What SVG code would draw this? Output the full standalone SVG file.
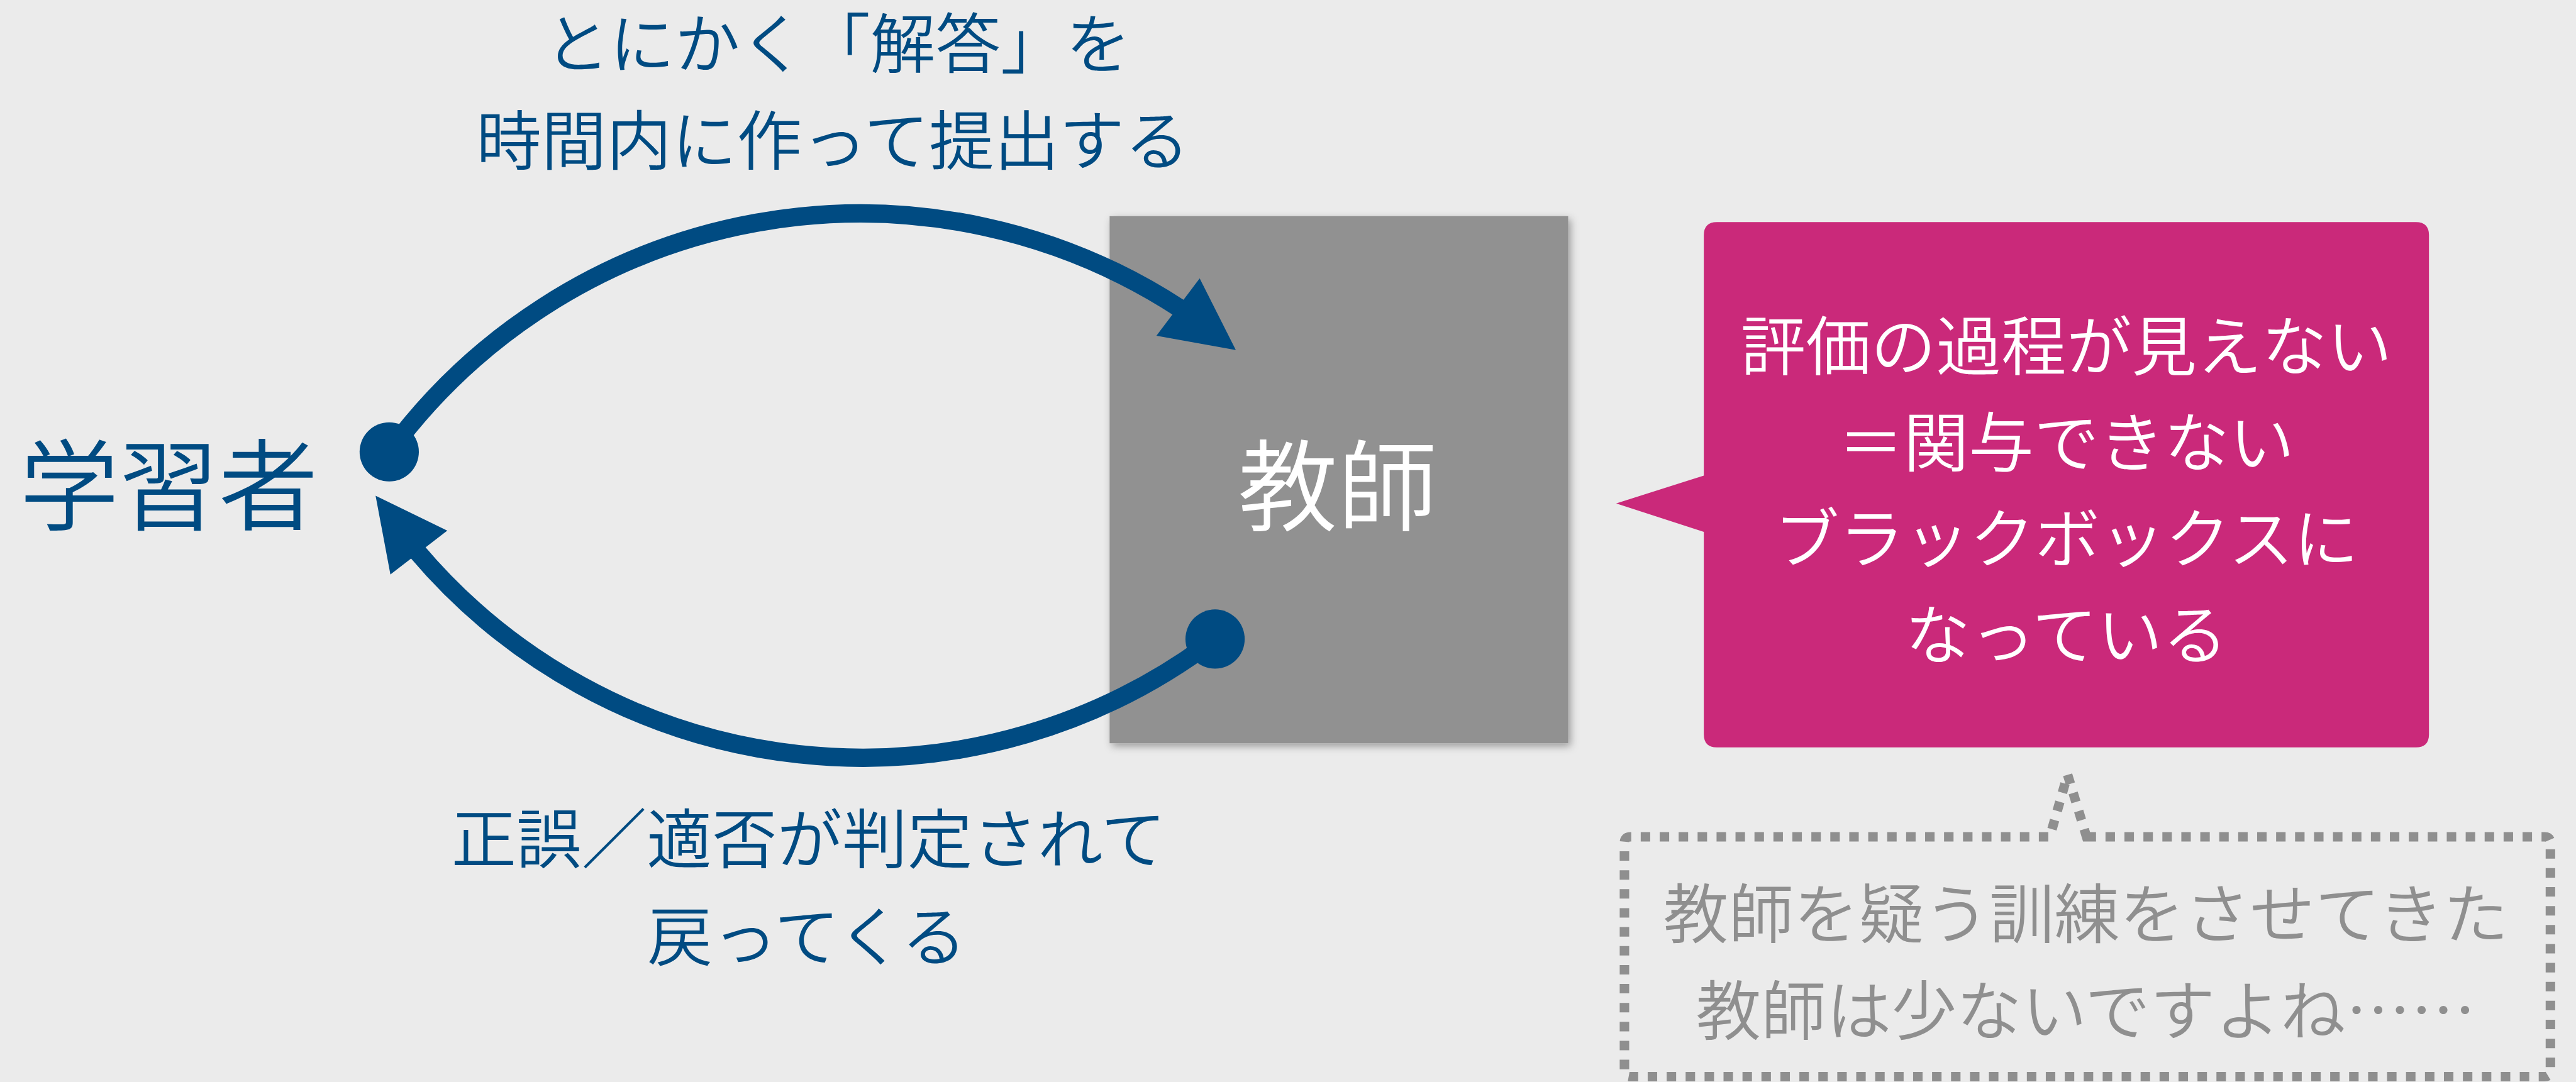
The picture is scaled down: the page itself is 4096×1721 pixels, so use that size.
<svg xmlns="http://www.w3.org/2000/svg" width="4096" height="1721" viewBox="0 0 4096 1721">
  <defs>
    <style>
      text { font-family: "Noto Sans CJK JP", "Noto Sans CJK SC", sans-serif; font-weight: 350; text-anchor: middle; }
      .blue { fill: #004B82; }
      .lbl { font-size: 110px; }
      .big { font-size: 168px; }
      .pink { fill: #FFFFFF; font-size: 110px; }
      .note { fill: #8F8F8F; font-size: 110px; }
      .arc { fill: none; stroke: #004B82; stroke-width: 31; stroke-linecap: butt; }
      .head, .dot { fill: #004B82; }
    </style>
    <filter id="shadow" x="-10%" y="-10%" width="120%" height="120%">
      <feDropShadow dx="4" dy="5" stdDeviation="7" flood-color="#000000" flood-opacity="0.35"/>
    </filter>
  </defs>
  <rect x="0" y="0" width="4096" height="1721" fill="#EBEBEB"/>
  <g transform="scale(0.942)">
    <g id="teacher">
      <rect x="1873" y="365" width="774" height="890" fill="#919191" filter="url(#shadow)"/>
      <text class="big" x="2258" y="883" fill="#FFFFFF">教師</text>
    </g>
    <g id="learner">
      <text class="big blue" x="285" y="882">学習者</text>
    </g>
    <g id="connectors">
      <path class="arc" d="M 657 763 A 987 987 0 0 1 1992 521"/>
      <polygon class="head" points="2025,470 2086,591 1952,567"/>
      <circle class="dot" cx="657" cy="763" r="50"/>
      <path class="arc" d="M 2051 1079 A 985 985 0 0 1 703 930"/>
      <polygon class="head" points="634,837 755,896 659,970"/>
      <circle class="dot" cx="2051" cy="1079" r="50"/>
    </g>
    <g id="label-submit">
      <text class="lbl blue" x="1414" y="115">とにかく「解答」を</text>
      <text class="lbl blue" x="1406" y="278">時間内に作って提出する</text>
    </g>
    <g id="label-return">
      <text class="lbl blue" x="1365" y="1458">正誤／適否が判定されて</text>
      <text class="lbl blue" x="1362" y="1622">戻ってくる</text>
    </g>
    <g id="callout">
      <path d="M 2898 375 H 4078 Q 4100 375 4100 397 V 1240 Q 4100 1262 4078 1262 H 2898 Q 2876 1262 2876 1240 V 898 L 2728 850 L 2876 803 V 397 Q 2876 375 2898 375 Z" fill="#CA297A"/>
      <text class="pink" x="3488" y="625">評価の過程が見えない</text>
      <text class="pink" x="3488" y="788">＝関与できない</text>
      <text class="pink" x="3488" y="950">ブラックボックスに</text>
      <text class="pink" x="3488" y="1113">なっている</text>
    </g>
    <g id="note">
      <path d="M 3522 1413 H 4295 Q 4305 1413 4305 1423 V 1808 Q 4305 1818 4295 1818 H 2752 Q 2742 1818 2742 1808 V 1423 Q 2742 1413 2752 1413 H 3460 L 3490 1308 Z" fill="none" stroke="#8F8F8F" stroke-width="16" stroke-dasharray="16 16"/>
      <text class="note" x="3521" y="1584">教師を疑う訓練をさせてきた</text>
      <text class="note" x="3521" y="1747">教師は少ないですよね……</text>
    </g>
  </g>
</svg>
